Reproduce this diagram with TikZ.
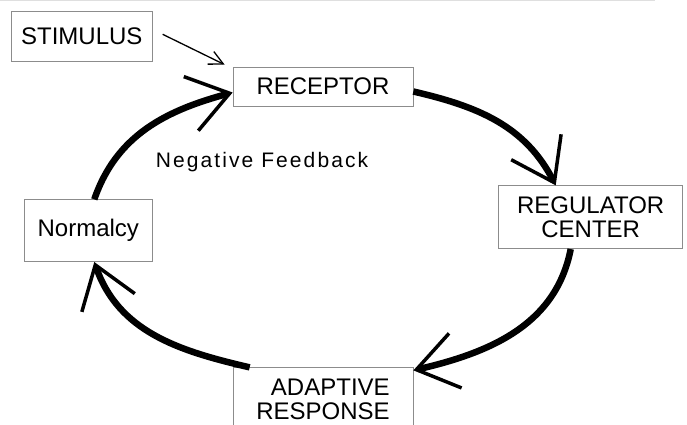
\documentclass[tikz,border=0pt]{standalone}
\usepackage{fontspec}
\setmainfont{Liberation Sans}
\newfontfamily\spacedfont[LetterSpace=10]{Liberation Sans}
\usetikzlibrary{arrows.meta,positioning}

\begin{document}
\begin{tikzpicture}[
    x=1pt, y=1pt,
    box/.style={draw=gray!90, line width=0.7pt, minimum width=180pt, align=center, inner sep=0pt, font=\fontsize{24}{24.5}\selectfont},
    loop/.style={line width=6.5pt, -{Straight Barb[length=40pt, width=56pt, line width=3.5pt]}},
    arrow/.style={line width=1.3pt, -{Straight Barb[length=14pt, width=14pt, line width=1.3pt]}}
]
\useasboundingbox (0,0) rectangle (687,424);

% top rule
\draw[gray!25, line width=1.5pt] (0,423.3) -- (655,423.3);

% Receptor
\node[box, minimum height=39pt] (receptor) at (323,337.5) {RECEPTOR};

% Stimulus
\node[box, minimum width=141pt, minimum height=50pt, above left=5pt and 80pt of receptor] (stimulus) {STIMULUS};

% Regulator Center
\node[box, minimum width=184pt, minimum height=63pt, below right=79pt and 85pt of receptor] (regulator) {REGULATOR\\CENTER};

% Adaptive Response
\node[box, minimum height=63pt, align=right, below=261pt of receptor] (response) {ADAPTIVE\\RESPONSE};

% Normalcy
\node[box, minimum width=128pt, minimum height=62pt, below left=93pt and 80pt of receptor] (normalcy) {Normalcy};

% Label
\node[font=\spacedfont\fontsize{21}{22}\selectfont] (feedback) at (262,262) {Negative Feedback};

% Arrows
\draw[arrow] ([xshift=10pt,yshift=2pt]stimulus.east) -- ([shift={(-8pt,2pt)}]receptor.north west);
\draw[loop] ([yshift=-5pt]receptor.east) to[out=-13, in=117] ([xshift=-35pt]regulator.north);
\draw[loop] ([xshift=-20pt]regulator.south) to[out=-101, in=13] ([yshift=-3pt]response.north east);
\draw[loop] ([xshift=17pt]response.north west) to[out=167, in=289] ([xshift=6pt]normalcy.south);
\draw[loop] ([xshift=6pt]normalcy.north) to[out=71, in=195] ([yshift=-6pt]receptor.west);

\end{tikzpicture}
\end{document}
